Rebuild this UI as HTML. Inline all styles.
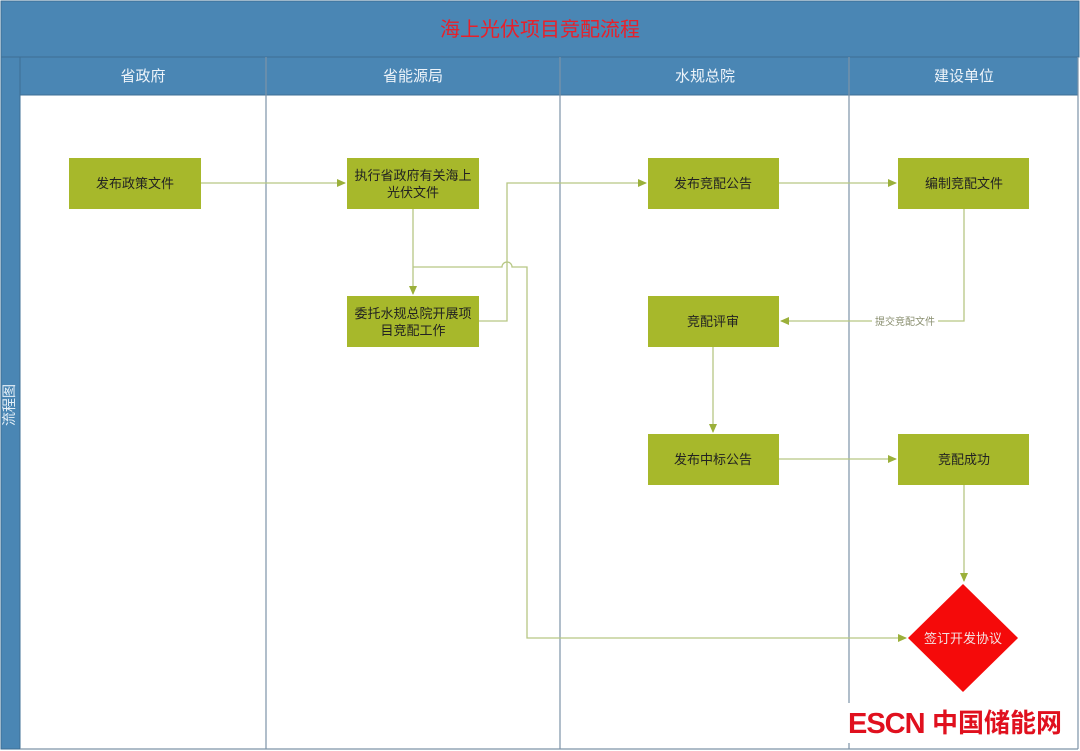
<!DOCTYPE html>
<html><head><meta charset="utf-8"><style>
html,body{margin:0;padding:0;background:#fff;width:1080px;height:751px;overflow:hidden}
text{font-family:"Liberation Sans","Noto Sans CJK SC",sans-serif}
</style></head><body>
<svg width="1080" height="751" viewBox="0 0 1080 751" xmlns="http://www.w3.org/2000/svg">
<defs>
<marker id="a" markerWidth="10" markerHeight="10" refX="8" refY="4" orient="auto" markerUnits="userSpaceOnUse">
<path d="M0,0 L9,4 L0,8 z" fill="#9bb03a"/></marker>
</defs>
<rect x="0" y="0" width="1080" height="751" fill="#fff"/>
<!-- title -->
<rect x="1" y="1" width="1078" height="56" fill="#4a86b4" stroke="#3d6f95"/>
<text x="540" y="36" text-anchor="middle" font-size="20" fill="#e8202a">海上光伏项目竞配流程</text>
<!-- left strip -->
<rect x="1" y="57" width="19" height="692" fill="#4a86b4" stroke="#3d6f95"/>
<text transform="translate(14,405) rotate(-90)" text-anchor="middle" font-size="14" fill="#e6f0f8">流程图</text>
<!-- header row -->
<rect x="20" y="57" width="1058" height="38" fill="#4a86b4" stroke="#3d6f95"/>
<g font-size="15" fill="#eef4fa" text-anchor="middle">
<text x="143" y="81">省政府</text>
<text x="413" y="81">省能源局</text>
<text x="705" y="81">水规总院</text>
<text x="964" y="81">建设单位</text>
</g>
<!-- lanes -->
<g stroke="#7d93a8" stroke-width="1.2" fill="none">
<line x1="266" y1="57" x2="266" y2="749"/>
<line x1="560" y1="57" x2="560" y2="749"/>
<line x1="849" y1="57" x2="849" y2="749"/>
<line x1="1078" y1="57" x2="1078" y2="749"/>
<line x1="20" y1="749" x2="1078" y2="749"/>
</g>
<!-- connectors -->
<g stroke="#b6c784" stroke-width="1.3" fill="none">
<line x1="201" y1="183" x2="345" y2="183" marker-end="url(#a)"/>
<line x1="413" y1="209" x2="413" y2="294" marker-end="url(#a)"/>
<path d="M413,267 H502 A5,5 0 0 1 512,267 H527 V638 H906" marker-end="url(#a)"/>
<path d="M479,321 H507 V183 H646" marker-end="url(#a)"/>
<line x1="779" y1="183" x2="896" y2="183" marker-end="url(#a)"/>
<path d="M964,209 V321 H781" marker-end="url(#a)"/>
<line x1="713" y1="347" x2="713" y2="432" marker-end="url(#a)"/>
<line x1="779" y1="459" x2="896" y2="459" marker-end="url(#a)"/>
<line x1="964" y1="485" x2="964" y2="581" marker-end="url(#a)"/>
</g>
<rect x="872" y="314" width="66" height="14" fill="#fff"/>
<text x="905" y="325" text-anchor="middle" font-size="10" fill="#8a8f70">提交竞配文件</text>
<!-- boxes -->
<g fill="#a7b82b">
<rect x="69" y="158" width="132" height="51"/>
<rect x="347" y="158" width="132" height="51"/>
<rect x="347" y="296" width="132" height="51"/>
<rect x="648" y="158" width="131" height="51"/>
<rect x="898" y="158" width="131" height="51"/>
<rect x="648" y="296" width="131" height="51"/>
<rect x="648" y="434" width="131" height="51"/>
<rect x="898" y="434" width="131" height="51"/>
</g>
<g font-size="13" fill="#222" text-anchor="middle">
<text x="135" y="188">发布政策文件</text>
<text x="413" y="180">执行省政府有关海上</text>
<text x="413" y="197">光伏文件</text>
<text x="413" y="318">委托水规总院开展项</text>
<text x="413" y="335">目竞配工作</text>
<text x="713" y="188">发布竞配公告</text>
<text x="964" y="188">编制竞配文件</text>
<text x="713" y="326">竞配评审</text>
<text x="713" y="464">发布中标公告</text>
<text x="964" y="464">竞配成功</text>
</g>
<!-- diamond -->
<polygon points="963,584 1018,638 963,692 908,638" fill="#f50a0a"/>
<text x="963" y="643" text-anchor="middle" font-size="13" fill="#f3e0e0">签订开发协议</text>
<!-- watermark -->
<rect x="846" y="703" width="216" height="40" fill="#fff"/>
<text x="848" y="733" font-size="29" font-weight="bold" fill="#e0101e" letter-spacing="-1">ESCN</text>
<text x="932" y="732" font-size="26" font-weight="bold" fill="#e0101e">中国储能网</text>
</svg>
</body></html>
